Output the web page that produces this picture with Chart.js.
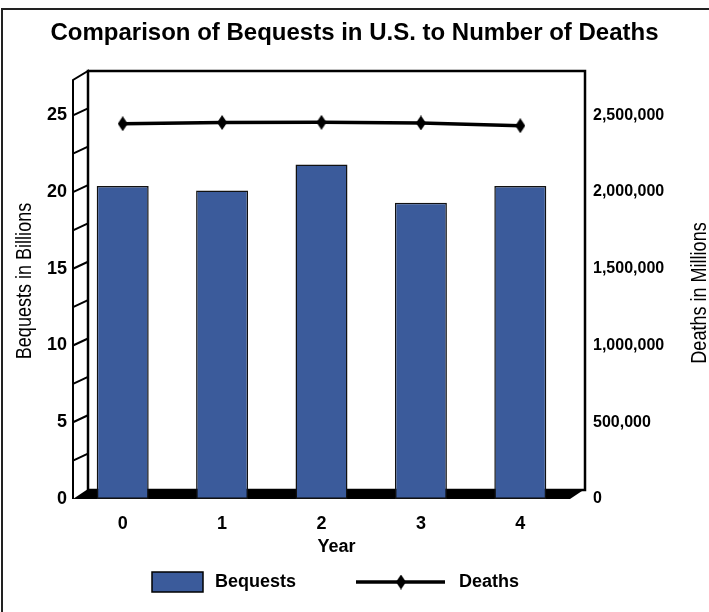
<!DOCTYPE html>
<html>
<head>
<meta charset="utf-8">
<script src="https://cdn.jsdelivr.net/npm/chart.js@4.4.1/dist/chart.umd.min.js"></script>
<style>
  html, body { margin: 0; padding: 0; background: #fff; }
  #wrap { width: 709px; height: 612px; position: relative; }
</style>
</head>
<body>
<div id="wrap"><canvas id="chart"></canvas></div>
<script>
// Years along the bottom
const years = ['0', '1', '2', '3', '4'];
// Bequests, in billions of dollars
const bequests = [20.4, 20.1, 21.8, 19.3, 20.4];
// Deaths per year
const deaths = [2445000, 2453000, 2454000, 2450000, 2432000];
// Labelled values on the right-hand axis
const deathTicks = [0, 500000, 1000000, 1500000, 2000000, 2500000];

const FONT = '"Liberation Sans", Arial, Helvetica, sans-serif';
const BAR_BLUE = '#3B5B9B';
const DEPTH_X = 15, DEPTH_Y = 9;   // offset of the back wall for the 3-D look

// Diamond marker, a little taller than wide
function makeDiamond(w, h) {
  const c = document.createElement('canvas');
  c.width = w; c.height = h;
  const g = c.getContext('2d');
  g.fillStyle = '#000';
  g.beginPath();
  g.moveTo(w / 2, 0); g.lineTo(w, h / 2); g.lineTo(w / 2, h); g.lineTo(0, h / 2);
  g.closePath(); g.fill();
  return c;
}
const diamond = makeDiamond(10, 15);

// Rotated, slightly condensed axis title reading bottom to top
function verticalTitle(ctx, text, x, y) {
  ctx.save();
  ctx.translate(x, y);
  ctx.rotate(-Math.PI / 2);
  ctx.scale(0.82, 1);
  ctx.fillText(text, 0, 0);
  ctx.restore();
}

// Frame, back wall, side wall with ticks, black floor, axis titles and legend
const boxPlugin = {
  id: 'box3d',
  beforeDraw(chart) {
    const ctx = chart.ctx;
    ctx.save();
    ctx.fillStyle = '#fff';
    ctx.fillRect(0, 0, chart.width, chart.height);
    ctx.strokeStyle = '#222';
    ctx.lineWidth = 2;
    ctx.beginPath();
    ctx.moveTo(2, chart.height); ctx.lineTo(2, 9); ctx.lineTo(chart.width, 9);
    ctx.stroke();
    ctx.restore();
  },
  beforeDatasetsDraw(chart) {
    const ctx = chart.ctx;
    const { left, right, top, bottom } = chart.chartArea;
    const ys = chart.scales.y;
    ctx.save();
    ctx.strokeStyle = '#000';
    // back wall
    ctx.lineWidth = 2.5;
    ctx.strokeRect(left + DEPTH_X, top - DEPTH_Y, right - left, bottom - top);
    // side wall
    ctx.lineWidth = 2;
    ctx.beginPath();
    ctx.moveTo(left, bottom);
    ctx.lineTo(left, top);
    ctx.lineTo(left + DEPTH_X, top - DEPTH_Y);
    ctx.lineTo(left + DEPTH_X, bottom - DEPTH_Y);
    ctx.stroke();
    // tick marks across the side wall
    ctx.beginPath();
    ys.ticks.forEach(t => {
      if (t.value <= 0 || t.value >= ys.max) return;
      const py = ys.getPixelForValue(t.value);
      ctx.moveTo(left, py);
      ctx.lineTo(left + DEPTH_X, py - DEPTH_Y + 2);
    });
    ctx.stroke();
    // floor
    ctx.fillStyle = '#000';
    ctx.beginPath();
    ctx.moveTo(left, bottom);
    ctx.lineTo(left + DEPTH_X, bottom - DEPTH_Y - 1);
    ctx.lineTo(right + DEPTH_X, bottom - DEPTH_Y - 1);
    ctx.lineTo(right, bottom);
    ctx.closePath();
    ctx.fill();
    ctx.restore();
  },
  afterDraw(chart) {
    const ctx = chart.ctx;
    const { left, right } = chart.chartArea;
    ctx.save();
    ctx.fillStyle = '#000';
    ctx.textAlign = 'center';
    ctx.textBaseline = 'middle';

    // x-axis title, centred on the back wall
    ctx.font = 'bold 18px ' + FONT;
    ctx.fillText('Year', (left + right) / 2 + DEPTH_X, 547);

    // vertical axis titles
    ctx.font = '22px ' + FONT;
    verticalTitle(ctx, 'Bequests in Billions', 25, 281);
    verticalTitle(ctx, 'Deaths in Millions', 700, 293);

    // legend
    const bar = chart.data.datasets[1], line = chart.data.datasets[0];
    const ly = 582;
    ctx.fillStyle = bar.backgroundColor;
    ctx.fillRect(152, ly - 10, 51, 20);
    ctx.strokeStyle = '#000';
    ctx.lineWidth = 1.5;
    ctx.strokeRect(152, ly - 10, 51, 20);
    ctx.beginPath();
    ctx.lineWidth = line.borderWidth;
    ctx.moveTo(356, ly); ctx.lineTo(445, ly);
    ctx.stroke();
    ctx.drawImage(diamond, 401 - diamond.width / 2, ly - diamond.height / 2);
    ctx.fillStyle = '#000';
    ctx.font = 'bold 18px ' + FONT;
    ctx.textAlign = 'left';
    ctx.fillText(bar.label, 215, ly);
    ctx.fillText(line.label, 459, ly);
    ctx.restore();
  }
};

new Chart(document.getElementById('chart'), {
  data: {
    labels: years,
    datasets: [
      {
        type: 'line',
        label: 'Deaths',
        data: deaths,
        yAxisID: 'y1',
        borderColor: '#000',
        borderWidth: 3.5,
        pointStyle: diamond,
        pointRadius: 6,
        tension: 0,
        order: 0
      },
      {
        type: 'bar',
        label: 'Bequests',
        data: bequests,
        yAxisID: 'y',
        backgroundColor: BAR_BLUE,
        borderColor: '#111',
        borderWidth: 1.5,
        borderSkipped: false,
        barPercentage: 0.523,
        categoryPercentage: 1,
        order: 1
      }
    ]
  },
  options: {
    responsive: true,
    maintainAspectRatio: false,
    animation: false,
    layout: { padding: 0 },
    plugins: {
      legend: { display: false },
      tooltip: { enabled: false },
      title: {
        display: true,
        text: 'Comparison of Bequests in U.S. to Number of Deaths',
        color: '#000',
        font: { family: FONT, size: 24, weight: 'bold' },
        padding: { top: 18.6, bottom: 32.6 }
      }
    },
    scales: {
      x: {
        grid: { display: false, drawTicks: false },
        border: { display: false },
        ticks: { color: '#000', font: { family: FONT, size: 18, weight: 'bold' }, padding: 14 },
        afterFit(s) { s.height = 113; }
      },
      y: {
        position: 'left',
        min: 0, max: 27.3,
        grid: { display: false, drawTicks: false },
        border: { display: false },
        ticks: {
          stepSize: 2.5, includeBounds: false, color: '#000',
          font: { family: FONT, size: 18, weight: 'bold' }, padding: 6,
          callback: v => (v % 5 === 0 ? v : '')
        },
        afterFit(s) { s.width = 73; }
      },
      y1: {
        position: 'right',
        min: 0, max: 2730000,
        grid: { display: false, drawTicks: false },
        border: { display: false },
        afterBuildTicks(s) { s.ticks = deathTicks.map(v => ({ value: v })); },
        ticks: {
          color: '#000', font: { family: FONT, size: 16, weight: 'bold' }, padding: 23,
          callback: v => v.toLocaleString('en-US')
        },
        afterFit(s) { s.width = 139; }
      }
    }
  },
  plugins: [boxPlugin]
});
</script>
</body>
</html>
